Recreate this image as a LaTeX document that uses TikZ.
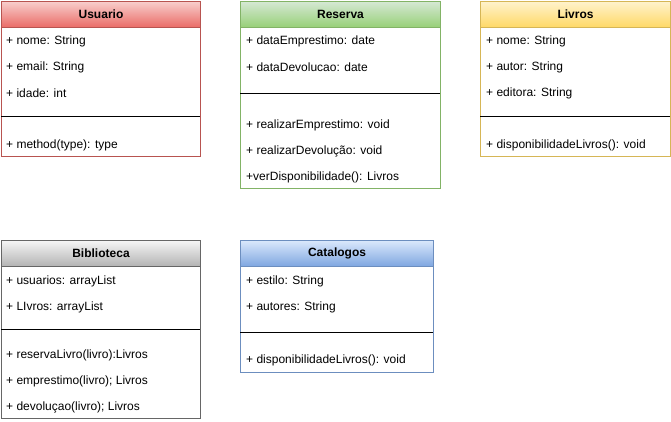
\documentclass[tikz,border=0pt]{standalone}
\usepackage{fontspec}
\setmainfont{Liberation Sans}
\definecolor{redf}{HTML}{F8CECC}\definecolor{redg}{HTML}{EA6B66}\definecolor{reds}{HTML}{B85450}
\definecolor{grnf}{HTML}{D5E8D4}\definecolor{grng}{HTML}{97D077}\definecolor{grns}{HTML}{82B366}
\definecolor{yelf}{HTML}{FFF2CC}\definecolor{yelg}{HTML}{FFD966}\definecolor{yels}{HTML}{D6B656}
\definecolor{gryf}{HTML}{F5F5F5}\definecolor{gryg}{HTML}{B3B3B3}\definecolor{grys}{HTML}{666666}
\definecolor{bluf}{HTML}{DAE8FC}\definecolor{blug}{HTML}{7EA6E0}\definecolor{blus}{HTML}{6C8EBF}
\tikzset{
  body/.style={draw=#1, line width=1pt, fill=white, anchor=north west, inner sep=0pt},
  head/.style={anchor=north west, inner sep=0pt, line width=1pt, font=\fontsize{12}{14}\selectfont\bfseries},
  item/.style={anchor=west, inner sep=0pt, font=\fontsize{12}{14}\selectfont},
  sepline/.style={line width=1pt, black},
}
\begin{document}
\begin{tikzpicture}[x=1pt,y=-1pt]
\useasboundingbox (0,0) rectangle (671,422);
% Usuario
\node[body=reds, minimum width=199pt, minimum height=155pt] (usuario) at (1,1) {};
\node[head, draw=reds, top color=redf, bottom color=redg, minimum width=199pt, minimum height=26pt] (usuarioH) at (1,1) {Usuario};
\draw[sepline] (1,117) -- (200,117);
\node[item] (u1) at (6,41) {+ nome: String};
\node[item] (u2) at (6,67) {+ email: String};
\node[item] (u3) at (6,93) {+ idade: int};
\node[item] (u4) at (6,145) {+ method(type): type};
% Reserva
\node[body=grns, minimum width=200pt, minimum height=187pt] (reserva) at (240,1) {};
\node[head, draw=grns, top color=grnf, bottom color=grng, minimum width=200pt, minimum height=26pt] (reservaH) at (240,1) {Reserva};
\draw[sepline] (240,94) -- (440,94);
\node[item] (r1) at (246,41) {+ dataEmprestimo: date};
\node[item] (r2) at (246,67) {+ dataDevolucao: date};
\node[item] (r3) at (246,125) {+ realizarEmprestimo: void};
\node[item] (r4) at (246,151) {+ realizarDevolução: void};
\node[item] (r5) at (246,177) {+verDisponibilidade(): Livros};
% Livros
\node[body=yels, minimum width=190pt, minimum height=155pt] (livros) at (480,1) {};
\node[head, draw=yels, top color=yelf, bottom color=yelg, minimum width=190pt, minimum height=26pt] (livrosH) at (480,1) {Livros};
\draw[sepline] (480,117) -- (670,117);
\node[item] (l1) at (486,41) {+ nome: String};
\node[item] (l2) at (486,67) {+ autor: String};
\node[item] (l3) at (486,93) {+ editora: String};
\node[item] (l4) at (486,145) {+ disponibilidadeLivros(): void};
% Biblioteca
\node[body=grys, minimum width=199pt, minimum height=178pt] (biblioteca) at (1,240) {};
\node[head, draw=grys, top color=gryf, bottom color=gryg, minimum width=199pt, minimum height=26pt] (bibliotecaH) at (1,240) {Biblioteca};
\draw[sepline] (1,329) -- (200,329);
\node[item] (b1) at (6,281) {+ usuarios: arrayList};
\node[item] (b2) at (6,307) {+ LIvros: arrayList};
\node[item] (b3) at (6,355) {+ reservaLivro(livro):Livros};
\node[item] (b4) at (6,381) {+ emprestimo(livro); Livros};
\node[item] (b5) at (6,407) {+ devoluçao(livro); Livros};
% Catalogos
\node[body=blus, minimum width=193pt, minimum height=132pt] (catalogos) at (240,240) {};
\node[head, draw=blus, top color=bluf, bottom color=blug, minimum width=193pt, minimum height=26pt] (catalogosH) at (240,240) {Catalogos};
\draw[sepline] (240,332) -- (433,332);
\node[item] (c1) at (246,281) {+ estilo: String};
\node[item] (c2) at (246,307) {+ autores: String};
\node[item] (c3) at (246,360) {+ disponibilidadeLivros(): void};
\end{tikzpicture}
\end{document}
